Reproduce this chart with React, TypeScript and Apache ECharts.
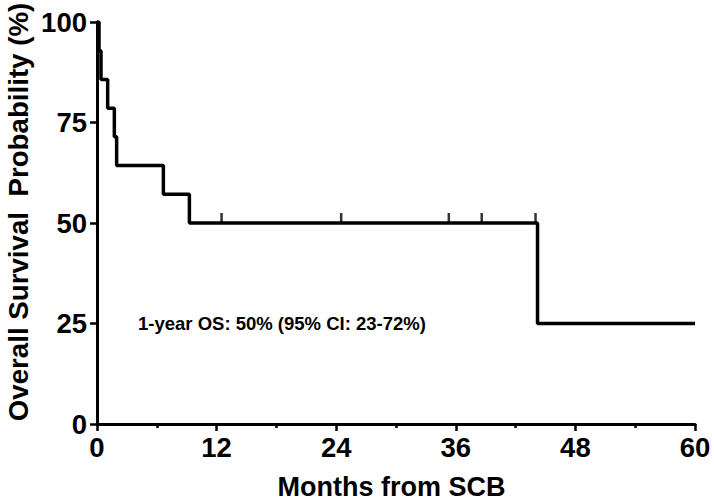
import React, { useEffect, useRef } from "react";
import * as echarts from "echarts";

const survivalTimes = [0, 0.2, 0.4, 1.07, 1.74, 1.97, 6.66, 9.27, 44.2, 60];
const survivalValues = [100, 92.86, 85.71, 78.57, 71.43, 64.29, 57.14, 50, 25, 25];
const censorTimes = [12.5, 24.5, 35.3, 38.6, 44.0];
const censorValues = [50, 50, 50, 50, 50];
const xTicks = [0, 12, 24, 36, 48, 60];
const yTicks = [0, 25, 50, 75, 100];
const annotation = "1-year OS: 50% (95% CI: 23-72%)";
const xTitle = "Months from SCB";
const yTitle = "Overall Survival  Probability (%)";

const FONT = "'Liberation Sans', Arial, Helvetica, sans-serif";

export default function App() {
  const ref = useRef<HTMLDivElement>(null);
  useEffect(() => {
    if (!ref.current) return;
    const chart = echarts.init(ref.current, null, { renderer: "svg" });
    chart.setOption({
      animation: false,
      backgroundColor: "#ffffff",
      grid: { left: 97, right: 19, top: 22, bottom: 79, containLabel: false, outerBoundsMode: "none" },
      xAxis: {
        type: "value",
        min: xTicks[0],
        max: xTicks[xTicks.length - 1],
        interval: 12,
        name: xTitle,
        nameLocation: "middle",
        nameGap: 49,
        nameTextStyle: {
          fontFamily: FONT,
          fontWeight: "bold",
          fontSize: 27,
          color: "#000",
          padding: [0, 9, 0, 0],
        },
        axisLine: { lineStyle: { color: "#000", width: 3 } },
        axisTick: { length: 7, lineStyle: { color: "#000", width: 2.5 } },
        minorTick: { show: true, splitNumber: 2, length: 4, lineStyle: { color: "#000", width: 2.5 } },
        splitLine: { show: false },
        axisLabel: { fontFamily: FONT, fontWeight: "bold", fontSize: 27.5, color: "#000", margin: 9 },
      },
      yAxis: {
        type: "value",
        min: yTicks[0],
        max: yTicks[yTicks.length - 1],
        interval: 25,
        axisLine: { show: true, lineStyle: { color: "#000", width: 3 } },
        axisTick: { show: true, length: 7, lineStyle: { color: "#000", width: 2.5 } },
        splitLine: { show: false },
        axisLabel: { fontFamily: FONT, fontWeight: "bold", fontSize: 27.5, color: "#000", margin: 10 },
      },
      graphic: [
        {
          type: "text",
          x: 18,
          y: 212,
          rotation: Math.PI / 2,
          style: {
            text: yTitle,
            fontFamily: FONT,
            fontWeight: "bold",
            fontSize: 27.7,
            fill: "#000",
            align: "center",
            verticalAlign: "middle",
          },
        },
        {
          type: "text",
          x: 138,
          y: 323,
          style: {
            text: annotation,
            fontFamily: FONT,
            fontWeight: "bold",
            fontSize: 18.5,
            fill: "#000",
            align: "left",
            verticalAlign: "middle",
          },
        },
      ],
      series: [
        {
          type: "line",
          step: "end",
          data: survivalTimes.map((t, i) => [t, survivalValues[i]]),
          showSymbol: false,
          symbol: "none",
          lineStyle: { color: "#000", width: 3.5 },
          z: 3,
        },
        {
          type: "scatter",
          data: censorTimes.map((t, i) => [t, censorValues[i]]),
          symbol: "rect",
          symbolSize: [2.5, 10],
          symbolOffset: [0, -5],
          itemStyle: { color: "#000" },
          z: 4,
        },
      ],
    });
    return () => chart.dispose();
  }, []);
  return <div ref={ref} style={{ width: 714, height: 503, position: "absolute", left: 0, top: 0 }} />;
}
